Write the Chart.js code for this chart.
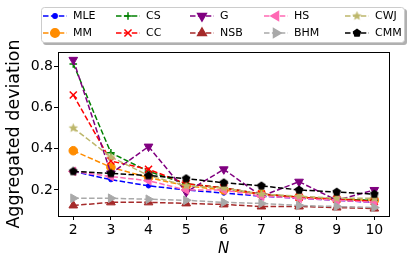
<!DOCTYPE html>
<html>
<head>
<meta charset="utf-8">
<script src="https://cdn.jsdelivr.net/npm/chart.js@4/dist/chart.umd.min.js"></script>
<style>
  html, body { margin: 0; padding: 0; background: #fff; }
  #chart { display: block; }
</style>
</head>
<body>
<canvas id="chart" width="415" height="266"></canvas>
<script>
const nValues = [2, 3, 4, 5, 6, 7, 8, 9, 10];
const yTicks = [0.2, 0.4, 0.6, 0.8];

const mle = [0.29, 0.25, 0.22, 0.20, 0.185, 0.17, 0.16, 0.15, 0.14];
const mm  = [0.39, 0.31, 0.26, 0.22, 0.20, 0.18, 0.165, 0.155, 0.15];
const cs  = [0.81, 0.38, 0.29, 0.23, 0.21, 0.18, 0.165, 0.155, 0.15];
const cc  = [0.66, 0.34, 0.30, 0.23, 0.21, 0.18, 0.165, 0.155, 0.145];
const g   = [0.83, 0.28, 0.41, 0.19, 0.30, 0.17, 0.24, 0.15, 0.20];
const nsb = [0.125, 0.14, 0.14, 0.135, 0.13, 0.12, 0.12, 0.115, 0.11];
const hs  = [0.29, 0.265, 0.245, 0.20, 0.20, 0.17, 0.16, 0.15, 0.14];
const bhm = [0.16, 0.16, 0.155, 0.15, 0.14, 0.135, 0.125, 0.12, 0.115];
const cwj = [0.50, 0.36, 0.27, 0.22, 0.21, 0.18, 0.17, 0.16, 0.16];
const cmm = [0.29, 0.28, 0.27, 0.255, 0.235, 0.22, 0.20, 0.19, 0.18];

const FONT = "'DejaVu Sans', 'Liberation Sans', sans-serif";

// filled star / pentagon markers as small canvases
function polyMarker(color, size, points, inner) {
    const c = document.createElement('canvas');
    c.width = size; c.height = size;
    const x = c.getContext('2d');
    const r = size / 2 - 0.5;
    x.beginPath();
    const n = inner ? points * 2 : points;
    for (let i = 0; i < n; i++) {
        const a = -Math.PI / 2 + i * 2 * Math.PI / n;
        const rr = inner && i % 2 ? r * inner : r;
        const px = size / 2 + Math.cos(a) * rr;
        const py = size / 2 + Math.sin(a) * rr;
        if (i === 0) x.moveTo(px, py); else x.lineTo(px, py);
    }
    x.closePath();
    x.fillStyle = color;
    x.fill();
    return c;
}
const starImg = polyMarker('#bdb76b', 11, 5, 0.45);
const pentImg = polyMarker('#000000', 10, 5, 0);

const series = [
    { label: 'MLE', data: mle, color: '#0000ff', style: 'circle', radius: 2.2, rot: 0 },
    { label: 'MM',  data: mm,  color: '#ff8c00', style: 'circle', radius: 4.3, rot: 0 },
    { label: 'CS',  data: cs,  color: '#008000', style: 'cross', radius: 3.8, rot: 0 },
    { label: 'CC',  data: cc,  color: '#ff0000', style: 'crossRot', radius: 5, rot: 0 },
    { label: 'G',   data: g,   color: '#800080', style: 'triangle', radius: 5, rot: 180 },
    { label: 'NSB', data: nsb, color: '#a52a2a', style: 'triangle', radius: 5, rot: 0 },
    { label: 'HS',  data: hs,  color: '#ff69b4', style: 'triangle', radius: 5, rot: 270 },
    { label: 'BHM', data: bhm, color: '#a9a9a9', style: 'triangle', radius: 5, rot: 90 },
    { label: 'CWJ', data: cwj, color: '#bdb76b', style: starImg, radius: 5, rot: 0 },
    { label: 'CMM', data: cmm, color: '#000000', style: pentImg, radius: 5, rot: 0 }
];

const datasets = series.map((s, i) => ({
    label: s.label,
    data: s.data.map((v, k) => ({ x: nValues[k], y: v })),
    borderColor: s.color,
    backgroundColor: s.color,
    borderWidth: 1.5,
    borderDash: [5.5, 2.4],
    pointStyle: s.style,
    pointRadius: s.radius,
    pointRotation: s.rot,
    pointBorderWidth: s.style === 'cross' || s.style === 'crossRot' ? 1.5 : 1,
    pointBackgroundColor: s.color,
    pointBorderColor: s.color,
    order: series.length - i
}));

// axes frame like matplotlib spines
const framePlugin = {
    id: 'frame',
    afterDatasetsDraw(chart) {
        const a = chart.chartArea;
        const ctx = chart.ctx;
        ctx.save();
        ctx.strokeStyle = '#000';
        ctx.lineWidth = 1;
        ctx.strokeRect(Math.round(a.left) + 0.5, Math.round(a.top) + 0.5,
            Math.round(a.right - a.left), Math.round(a.bottom - a.top));
        ctx.restore();
    }
};

// two-row legend laid out in columns
const legendPlugin = {
    id: 'colLegend',
    afterDraw(chart) {
        const ctx = chart.ctx;
        const colX = [43, 116, 190, 264, 345];
        const rowY = [16, 33];
        ctx.save();
        // shadow + box
        ctx.fillStyle = '#b0b0b0';
        roundRect(ctx, 43, 9, 364, 36, 3);
        ctx.fill();
        ctx.fillStyle = '#fff';
        ctx.strokeStyle = '#cccccc';
        ctx.lineWidth = 1;
        roundRect(ctx, 41.5, 7.5, 363, 35, 3);
        ctx.fill();
        ctx.stroke();
        ctx.font = '11px ' + FONT;
        ctx.textBaseline = 'middle';
        series.forEach((s, i) => {
            const x0 = colX[Math.floor(i / 2)];
            const y0 = rowY[i % 2];
            ctx.strokeStyle = s.color;
            ctx.fillStyle = s.color;
            ctx.lineWidth = 1.5;
            ctx.setLineDash([5.5, 2.4]);
            ctx.beginPath();
            ctx.moveTo(x0, y0);
            ctx.lineTo(x0 + 24, y0);
            ctx.stroke();
            ctx.setLineDash([]);
            Chart.helpers.drawPoint(ctx, {
                pointStyle: s.style,
                rotation: s.rot,
                radius: s.radius,
                borderWidth: s.style === 'cross' || s.style === 'crossRot' ? 1.5 : 1
            }, x0 + 12, y0);
            ctx.fillStyle = '#000';
            ctx.fillText(s.label, x0 + 30, y0 + 0.5);
        });
        ctx.restore();
    }
};

function roundRect(ctx, x, y, w, h, r) {
    ctx.beginPath();
    ctx.moveTo(x + r, y);
    ctx.lineTo(x + w - r, y);
    ctx.arcTo(x + w, y, x + w, y + r, r);
    ctx.lineTo(x + w, y + h - r);
    ctx.arcTo(x + w, y + h, x + w - r, y + h, r);
    ctx.lineTo(x + r, y + h);
    ctx.arcTo(x, y + h, x, y + h - r, r);
    ctx.lineTo(x, y + r);
    ctx.arcTo(x, y, x + r, y, r);
    ctx.closePath();
}

const ctxChart = document.getElementById('chart').getContext('2d');
new Chart(ctxChart, {
    type: 'line',
    data: { datasets: datasets },
    options: {
        responsive: false,
        animation: false,
        events: [],
        layout: { padding: { top: 52, right: 26, left: 0, bottom: 0 } },
        plugins: { legend: { display: false }, tooltip: { enabled: false } },
        scales: {
            x: {
                type: 'linear',
                min: 1.594,
                max: 10.39,
                afterBuildTicks: (scale) => { scale.ticks = nValues.map(v => ({ value: v })); },
                afterFit: (scale) => { scale.height = 50; },
                ticks: {
                    color: '#000',
                    font: { family: FONT, size: 14 },
                    padding: 2,
                    maxRotation: 0,
                    callback: (v) => String(v)
                },
                grid: { display: true, drawOnChartArea: false, drawTicks: true, tickLength: 4, color: '#000' },
                border: { display: true, color: '#000', width: 1 },
                title: {
                    display: true,
                    text: 'N',
                    color: '#000',
                    font: { family: FONT, size: 15, style: 'italic' },
                    padding: { top: 0, bottom: 8 }
                }
            },
            y: {
                type: 'linear',
                min: 0.074,
                max: 0.868,
                afterBuildTicks: (scale) => { scale.ticks = yTicks.map(v => ({ value: v })); },
                afterFit: (scale) => { scale.width = 58; },
                ticks: {
                    color: '#000',
                    font: { family: FONT, size: 14 },
                    padding: 1,
                    callback: (v) => v.toFixed(1)
                },
                grid: { display: true, drawOnChartArea: false, drawTicks: true, tickLength: 4, color: '#000' },
                border: { display: true, color: '#000', width: 1 },
                title: {
                    display: true,
                    text: 'Aggregated deviation',
                    color: '#000',
                    font: { family: FONT, size: 17.5 },
                    padding: { top: 4, bottom: 0 }
                }
            }
        }
    },
    plugins: [framePlugin, legendPlugin]
});
</script>
</body>
</html>
